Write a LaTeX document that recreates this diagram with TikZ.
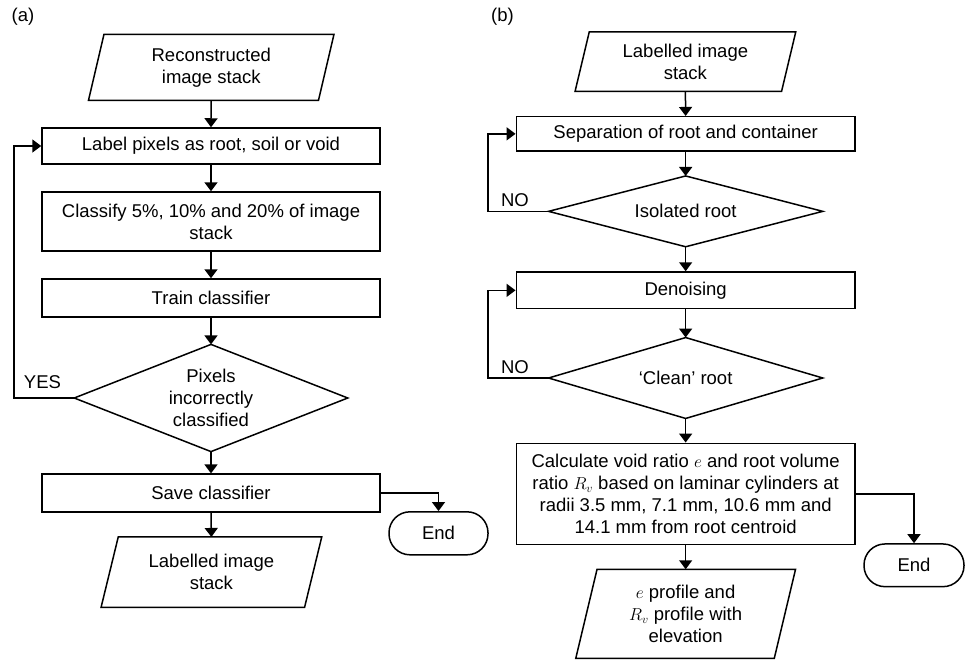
\documentclass[tikz,border=0pt]{standalone}
\usepackage{fontspec}
\setmainfont{Liberation Sans}
\usetikzlibrary{arrows.meta,calc}
\begin{document}
\begin{tikzpicture}[x=1pt,y=-1pt,
  font=\fontsize{18.5}{22}\selectfont,
  line width=1.5pt,
  arr/.style={-{Triangle[length=9pt,width=13pt]}},
  procbox/.style={draw,rectangle,inner sep=0pt,align=center},
  txtbox/.style={rectangle,inner sep=0pt,align=center},
  endbox/.style={draw,rectangle,rounded corners=21pt,inner sep=0pt,align=center}]
\useasboundingbox (0,0) rectangle (967,659);

% ---------- panel (a) ----------
\node[txtbox] (pa) at (23,17) {(a)};
\node[txtbox,minimum width=228.5pt,minimum height=64.5pt] (inA) at (211.25,67.25) {Reconstructed\\image stack};
\draw ($(inA.north west)+(7.75,0)$) -- ($(inA.north east)+(7.75,0)$) -- ($(inA.south east)-(7.75,0)$) -- ($(inA.south west)-(7.75,0)$) -- cycle;
\node[procbox,minimum width=338pt,minimum height=36pt] (lab) at (211,146) {Label pixels as root, soil or void};
\node[procbox,minimum width=338pt,minimum height=59pt] (cls) at (211,221.5) {Classify 5\%, 10\% and 20\% of image\\stack};
\node[procbox,minimum width=338pt,minimum height=38pt] (trn) at (211,298) {Train classifier};
\node[txtbox,minimum width=272pt,minimum height=105.7pt] (decA) at (211,398) {Pixels\\incorrectly\\classified};
\draw (decA.north) -- (decA.east) -- (decA.south) -- (decA.west) -- cycle;
\node[procbox,minimum width=338pt,minimum height=37.7pt] (sav) at (211,493) {Save classifier};
\node[endbox,minimum width=99pt,minimum height=43pt] (endA) at (438.5,533.3) {End};
\node[txtbox,minimum width=202pt,minimum height=69pt] (outA) at (211.4,572.2) {Labelled image\\stack};
\draw ($(outA.north west)+(8.6,0)$) -- ($(outA.north east)+(8.6,0)$) -- ($(outA.south east)-(8.6,0)$) -- ($(outA.south west)-(8.6,0)$) -- cycle;
\coordinate (loopA) at (14,398);
\node[txtbox] (yes) at (42.5,382) {YES};

\draw[arr] (inA.south) -- (lab.north);
\draw[arr] (lab.south) -- (cls.north);
\draw[arr] (cls.south) -- (trn.north);
\draw[arr] (trn.south) -- (decA.north);
\draw[arr] (decA.south) -- (sav.north);
\draw[arr] (sav.south) -- (outA.north);
\draw[arr] (sav.east) -| (endA.north);
\draw[arr] (decA.west) -- (loopA) |- (lab.west);

% ---------- panel (b) ----------
\node[txtbox] (pb) at (502.5,17) {(b)};
\node[txtbox,minimum width=205pt,minimum height=58pt] (inB) at (685.4,61.7) {Labelled image\\stack};
\draw ($(inB.north west)+(7.1,0)$) -- ($(inB.north east)+(7.1,0)$) -- ($(inB.south east)-(7.1,0)$) -- ($(inB.south west)-(7.1,0)$) -- cycle;
\node[procbox,minimum width=338.7pt,minimum height=34.3pt] (sep) at (685.65,133.85) {Separation of root and container};
\node[txtbox,minimum width=272.7pt,minimum height=69.3pt] (decB1) at (685.65,211.35) {Isolated root};
\draw (decB1.north) -- (decB1.east) -- (decB1.south) -- (decB1.west) -- cycle;
\node[procbox,minimum width=338.7pt,minimum height=36.7pt] (den) at (685.65,290.35) {Denoising};
\node[txtbox,minimum width=272.7pt,minimum height=79.4pt] (decB2) at (685.65,378) {‘Clean’ root};
\draw (decB2.north) -- (decB2.east) -- (decB2.south) -- (decB2.west) -- cycle;
\node[procbox,minimum width=338.7pt,minimum height=101pt] (calc) at (685.65,493.8) {Calculate void ratio $e$ and root volume\\ratio $R_v$ based on laminar cylinders at\\radii 3.5 mm, 7.1 mm, 10.6 mm and\\14.1 mm from root centroid};
\node[endbox,minimum width=100pt,minimum height=42.7pt] (endB) at (914,565.3) {End};
\node[txtbox,minimum width=197pt,minimum height=87.7pt] (outB) at (685.65,613.85) {$e$ profile and\\$R_v$ profile with\\elevation};
\draw ($(outB.north west)+(10.65,0)$) -- ($(outB.north east)+(10.65,0)$) -- ($(outB.south east)-(10.65,0)$) -- ($(outB.south west)-(10.65,0)$) -- cycle;
\coordinate (loopB1) at (488,211.35);
\coordinate (loopB2) at (488,378);
\node[txtbox] (no1) at (515,200) {NO};
\node[txtbox] (no2) at (515,367) {NO};

\draw[arr] (inB.south) -- (sep.north);
\draw[arr] (sep.south) -- (decB1.north);
\draw[arr] (decB1.south) -- (den.north);
\draw[arr] (den.south) -- (decB2.north);
\draw[arr] (decB2.south) -- (calc.north);
\draw[arr] (calc.south) -- (outB.north);
\draw[arr] (calc.east) -| (endB.north);
\draw[arr] (decB1.west) -- (loopB1) |- (sep.west);
\draw[arr] (decB2.west) -- (loopB2) |- (den.west);
\end{tikzpicture}
\end{document}
